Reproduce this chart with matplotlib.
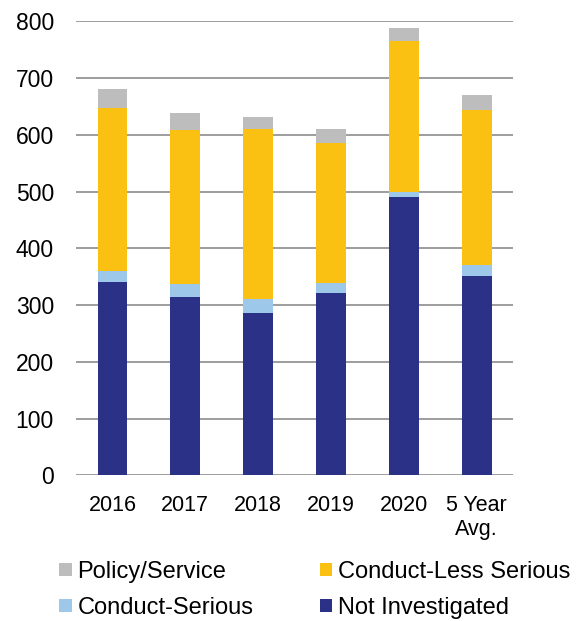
import numpy as np
import matplotlib.pyplot as plt

plt.rcParams['font.family'] = ['Liberation Sans', 'DejaVu Sans']

years = ['2016', '2017', '2018', '2019', '2020', '5 Year\nAvg.']
not_investigated = [341, 315, 286, 322, 490, 351]
conduct_serious = [19, 23, 24, 17, 10, 19]
conduct_less = [287, 270, 300, 246, 266, 273]
policy_service = [33, 31, 21, 26, 22, 27]

c_navy = '#2b3187'
c_light = '#9dc8ea'
c_yellow = '#fbc112'
c_gray = '#bdbdbd'

fig = plt.figure(figsize=(5.81, 6.21), dpi=100)
ax = fig.add_axes([0.131, 0.2346, 0.752, 0.731])

x = np.arange(len(years))
w = 0.41
b1 = np.array(not_investigated)
b2 = b1 + np.array(conduct_serious)
b3 = b2 + np.array(conduct_less)

h_ni = ax.bar(x, not_investigated, w, color=c_navy, zorder=3)
h_cs = ax.bar(x, conduct_serious, w, bottom=b1, color=c_light, zorder=3)
h_cl = ax.bar(x, conduct_less, w, bottom=b2, color=c_yellow, zorder=3)
h_ps = ax.bar(x, policy_service, w, bottom=b3, color=c_gray, zorder=3)

ax.set_ylim(0, 800)
ax.set_xlim(-0.5, 5.5)
ax.set_yticks(range(0, 801, 100))
ax.set_xticks(x)
ax.set_xticklabels(years)
ax.yaxis.grid(True, color='#8c8c8c', linewidth=1.2, zorder=0)
ax.tick_params(axis='both', length=0, colors='black')
ax.tick_params(axis='y', labelsize=16.5, pad=16)
ax.tick_params(axis='x', labelsize=15.5, pad=14)
for s in ax.spines.values():
    s.set_visible(False)

fig.legend([h_ps, h_cs, h_cl, h_ni],
           ['Policy/Service', 'Conduct-Serious', 'Conduct-Less Serious', 'Not Investigated'],
           ncol=2, frameon=False, fontsize=17, loc='upper left',
           bbox_to_anchor=(0.102, 0.097), borderpad=0, borderaxespad=0,
           handlelength=0.52, handleheight=0.52,
           handletextpad=0.25, columnspacing=2.8, labelspacing=0.6)

fig.savefig('out.png', dpi=100)
